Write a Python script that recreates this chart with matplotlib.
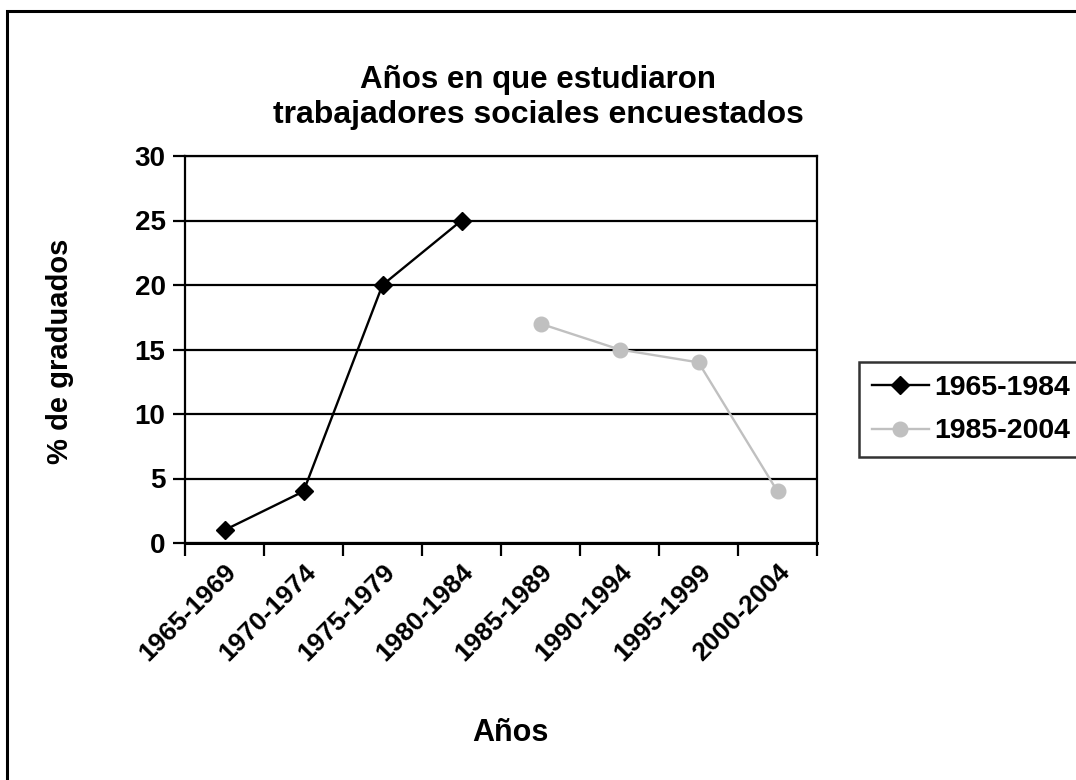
import matplotlib
matplotlib.use("Agg")
import matplotlib.pyplot as plt
from matplotlib.patches import Rectangle
import numpy as np

categories = ["1965-1969", "1970-1974", "1975-1979", "1980-1984",
              "1985-1989", "1990-1994", "1995-1999", "2000-2004"]
series1_name = "1965-1984"
series1_values = [1, 4, 20, 25]
series2_name = "1985-2004"
series2_values = [17, 15, 14, 4]
yticks = [0, 5, 10, 15, 20, 25, 30]

plt.rcParams['font.family'] = ['Liberation Sans', 'DejaVu Sans']
plt.rcParams['font.weight'] = 'bold'

W, H = 1076, 780
fig = plt.figure(figsize=(W / 100, H / 100), dpi=100)
ax = fig.add_axes([185 / W, (H - 543) / H, 632 / W, 387 / H])

centers = np.arange(len(categories)) + 0.5
x1 = centers[:len(series1_values)]
x2 = centers[len(series1_values):len(series1_values) + len(series2_values)]

ax.plot(x1, series1_values, color='black', lw=1.7, marker='D', markersize=9,
        label=series1_name, zorder=3)
ax.plot(x2, series2_values, color='#c0c0c0', lw=1.7, marker='o', markersize=10.5,
        label=series2_name, zorder=3)

ax.set_xlim(0, len(categories))
ax.set_ylim(0, 30)
ax.set_yticks(yticks)
ax.yaxis.grid(True, color='black', lw=1.6)
ax.set_axisbelow(True)
ax.set_xticks(np.arange(len(categories) + 1))
ax.set_xticklabels([])
ax.set_xticks(centers, minor=True)
ax.set_xticklabels(categories, minor=True, rotation=45, ha='right',
                   rotation_mode='anchor', fontsize=19, fontweight='bold')
ax.tick_params(axis='x', which='minor', length=0, pad=12)
ax.tick_params(axis='x', which='major', length=9, width=1.6, direction='out')
ax.tick_params(axis='y', length=9, width=1.6, direction='out', labelsize=20, pad=5)
for lbl in ax.get_yticklabels():
    lbl.set_fontweight('bold')
for s in ax.spines.values():
    s.set_color('black')
    s.set_linewidth(1.6)
ax.spines['bottom'].set_linewidth(2.2)

fig.text(60 / W, 1 - 351 / H, '% de graduados', rotation=90, ha='center',
         va='center', fontsize=21, fontweight='bold')
fig.text(510 / W, 1 - 733 / H, 'Años', ha='center', va='center',
         fontsize=22, fontweight='bold')
fig.text(538 / W, 1 - 80 / H, 'Años en que estudiaron', ha='center',
         va='center', fontsize=22.5, fontweight='bold')
fig.text(538 / W, 1 - 115 / H, 'trabajadores sociales encuestados', ha='center',
         va='center', fontsize=23, fontweight='bold')

leg = fig.legend(loc='upper left', bbox_to_anchor=(859 / W, 1 - 362 / H),
                 borderaxespad=0, frameon=True, fancybox=False, edgecolor='black',
                 prop={'size': 20.5, 'weight': 'bold'}, handlelength=2.0,
                 borderpad=0.45, labelspacing=0.62, handletextpad=0.2)
leg.get_frame().set_linewidth(1.8)

fig.patches.append(Rectangle((7 / W, -0.1), 1.2, (H - 11) / H + 0.1,
                             transform=fig.transFigure, fill=False,
                             edgecolor='black', lw=2.2))

fig.savefig('out.png', dpi=100)
